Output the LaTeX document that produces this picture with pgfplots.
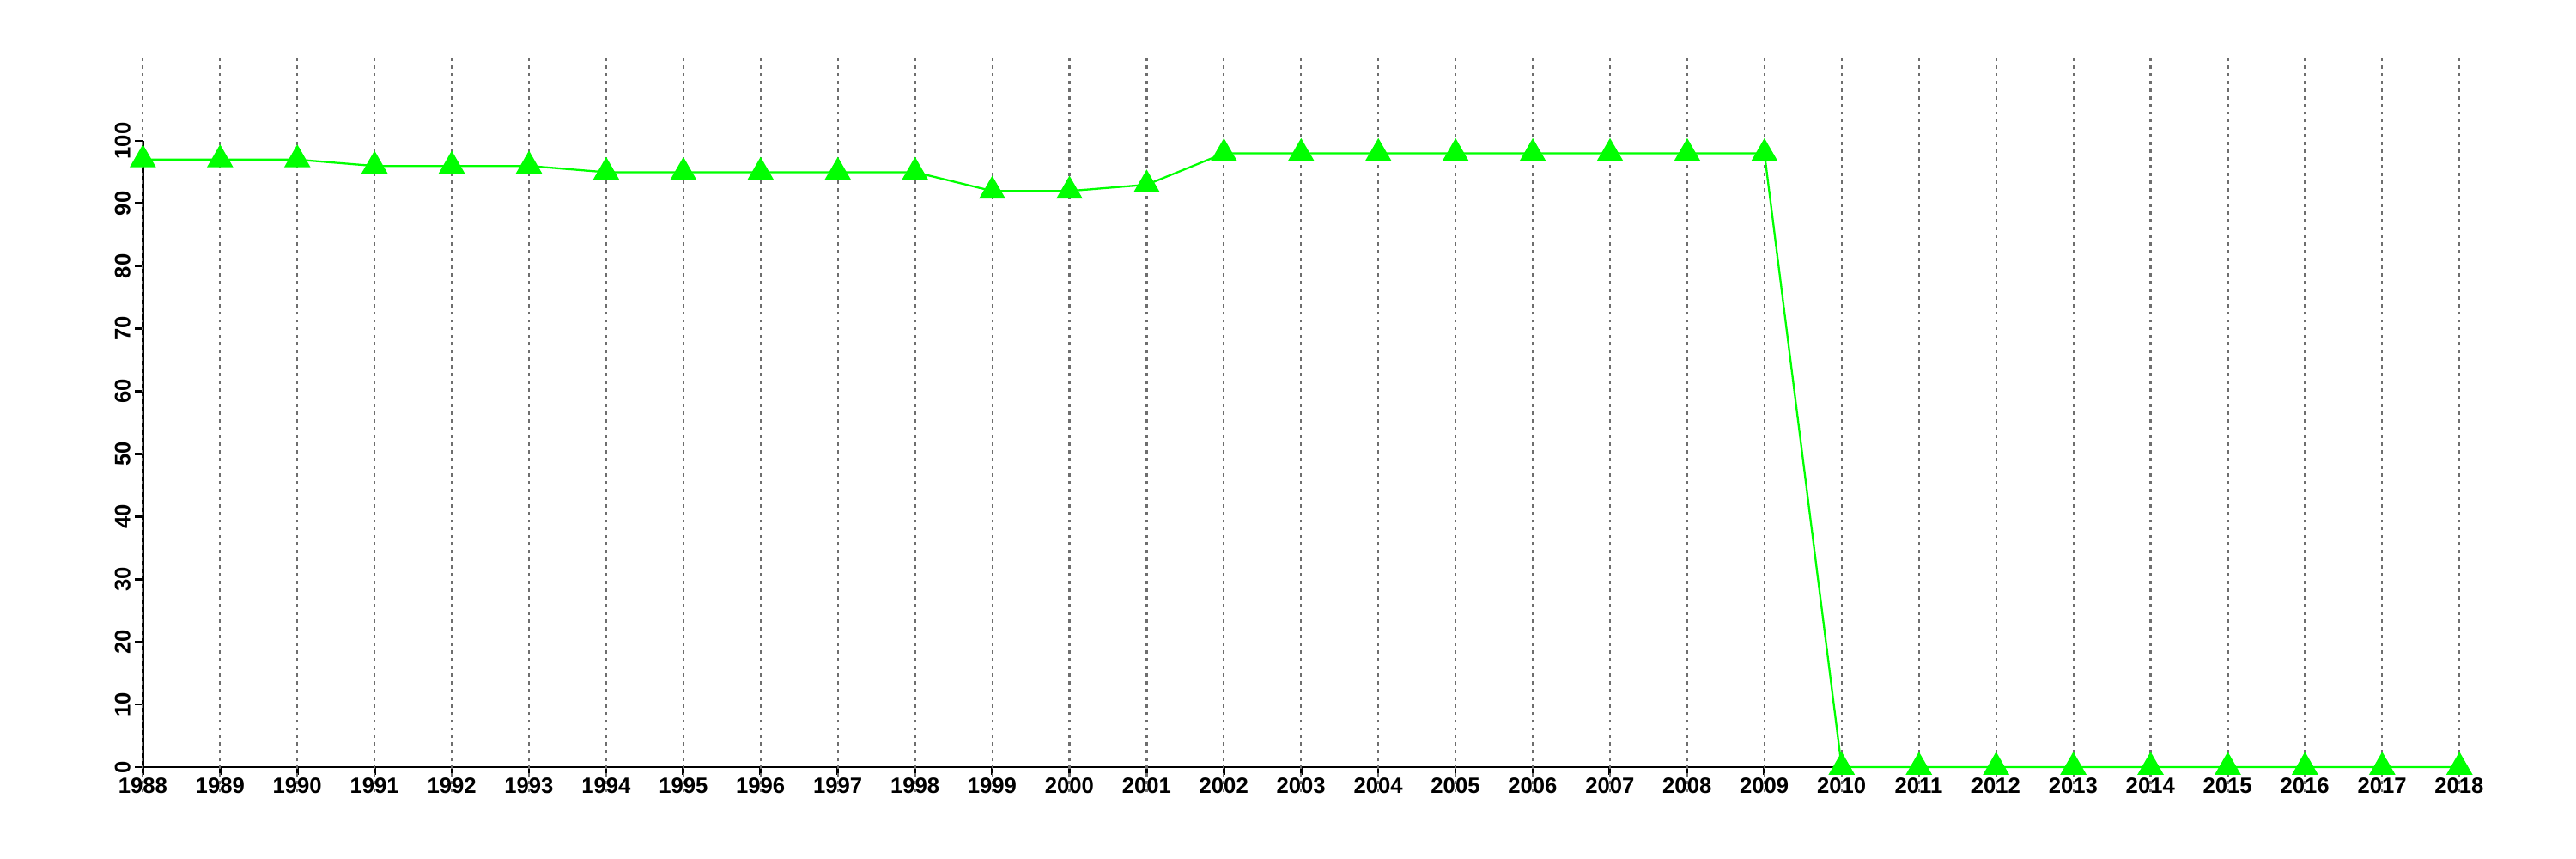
\documentclass[border=0pt]{standalone}
\usepackage{pgfplots}
\pgfplotsset{compat=1.18}
\usepackage{fontspec}
\setmainfont{Liberation Sans}
\definecolor{lgreen}{RGB}{0,255,0}
\definecolor{gridgray}{RGB}{110,110,110}
\begin{document}
\begin{tikzpicture}
\begin{axis}[
  scale only axis,
  width=26.98cm, height=7.29cm,
  xmin=1988, xmax=2018, ymin=0, ymax=100,
  enlargelimits=false,
  clip=false,
  axis lines=left,
  axis line style={-, line width=0.8pt, black},
  xtick={1988,...,2018},
  ytick={0,10,...,100},
  tick style={black, line width=0.8pt},
  major tick length=0.09cm,
  tick align=outside,
  /pgf/number format/assume math mode=true,
  /pgf/number format/1000 sep={},
  tick label style={font=\fontsize{7.3}{8}\selectfont\bfseries},
  xticklabel style={yshift=2.5pt},
  yticklabel shift={-2pt},
  yticklabel style={rotate=90, anchor=south},
  ylabel={}, xlabel={},
]
\addplot[color=lgreen, line width=0.65pt, mark=triangle*, mark size=4.4pt,
  mark options={fill=lgreen, draw=none}] coordinates {
(1988,97) (1989,97) (1990,97) (1991,96) (1992,96) (1993,96)
(1994,95) (1995,95) (1996,95) (1997,95) (1998,95)
(1999,92) (2000,92) (2001,93)
(2002,98) (2003,98) (2004,98) (2005,98) (2006,98) (2007,98) (2008,98) (2009,98)
(2010,0) (2011,0) (2012,0) (2013,0) (2014,0) (2015,0) (2016,0) (2017,0) (2018,0)
};
\pgfplotsinvokeforeach{1988,...,2018}{
  \draw[gridgray, line width=0.6pt, dash pattern=on 1.1pt off 1.45pt] (axis cs:#1,-4) -- (axis cs:#1,114);
}
\path (axis cs:1986.15,-14.66) rectangle (axis cs:2019.51,122.5);
\end{axis}
\end{tikzpicture}
\end{document}
